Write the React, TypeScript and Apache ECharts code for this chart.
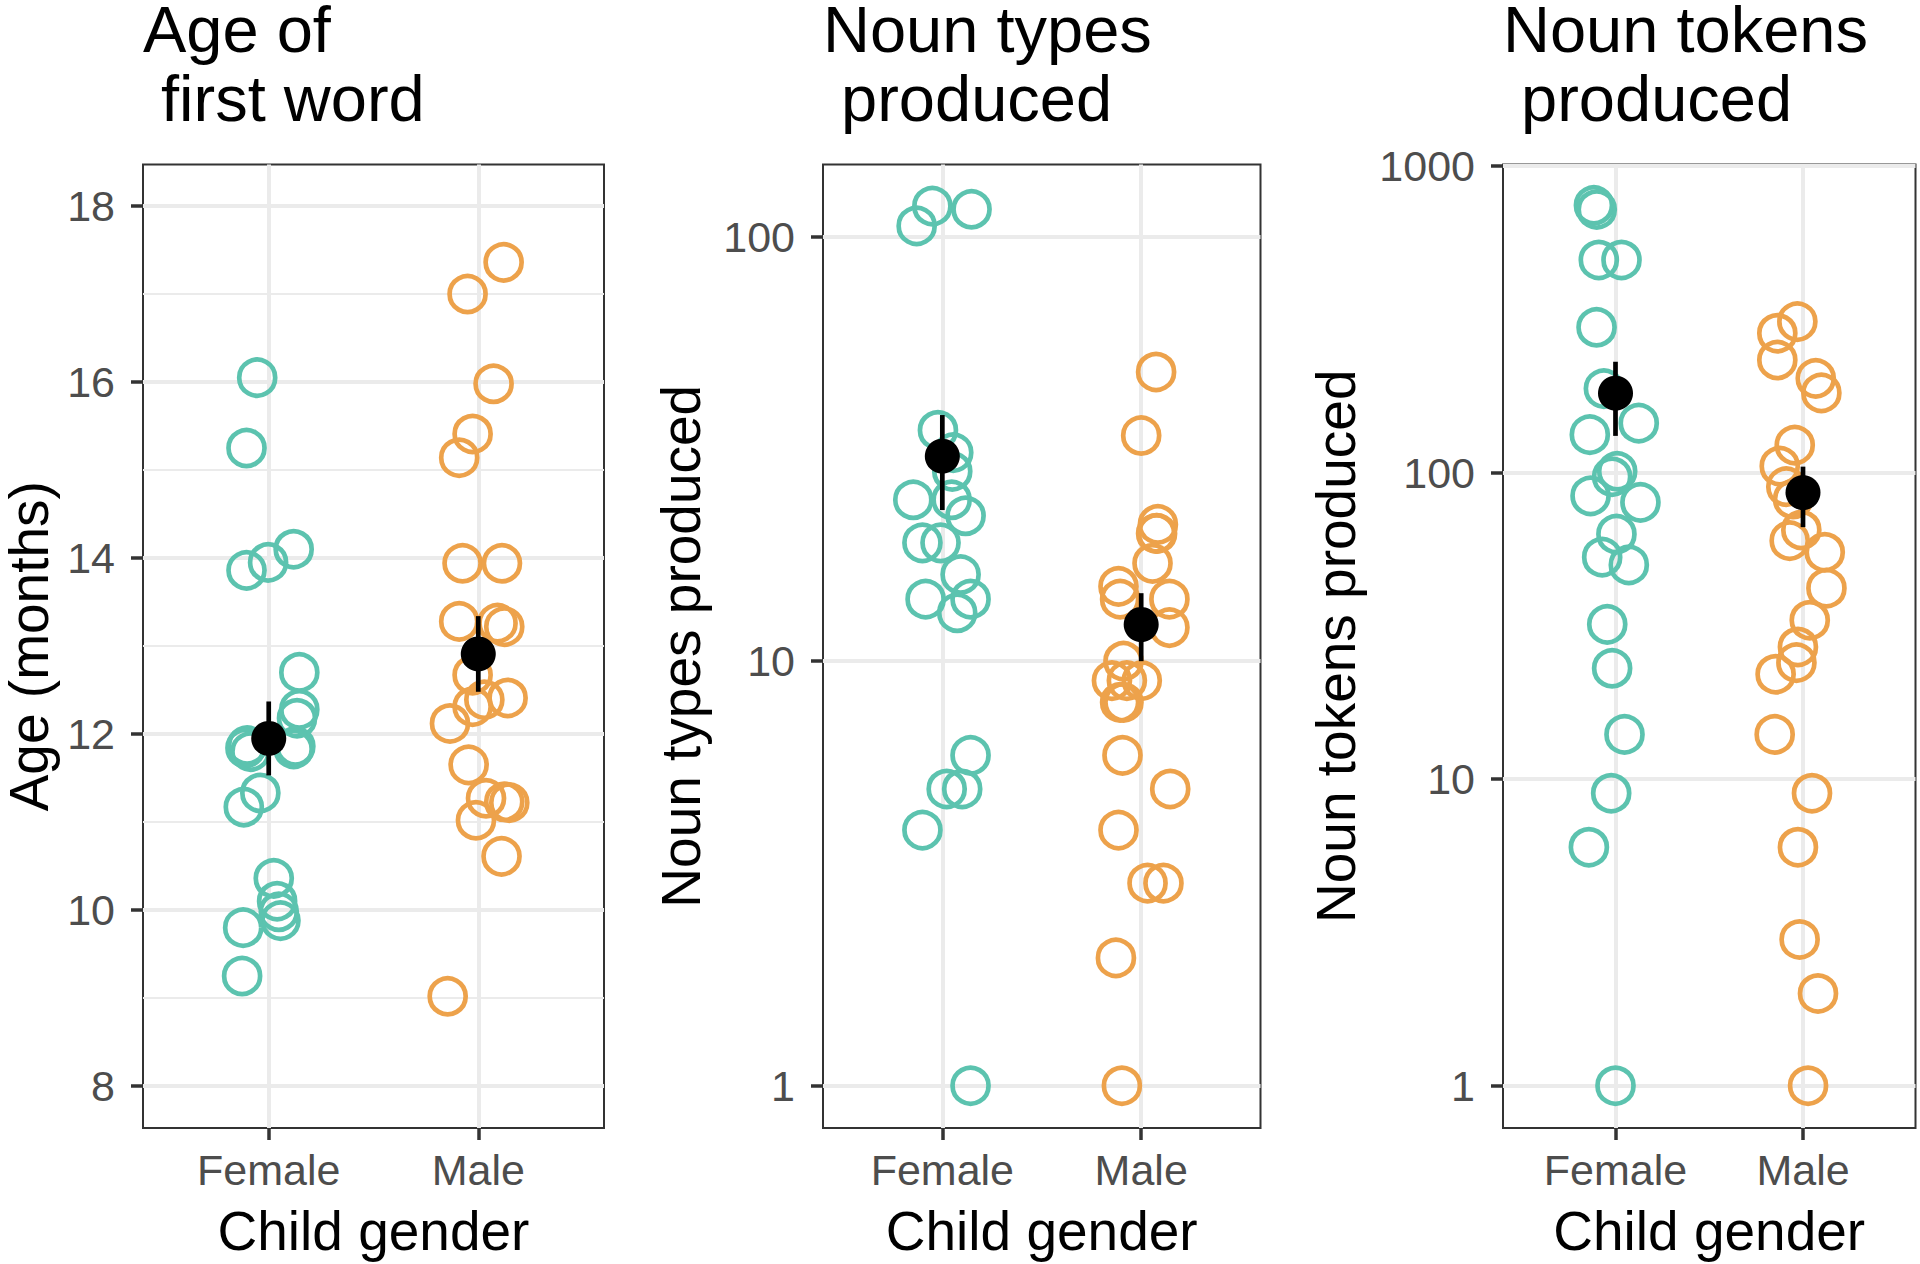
import React, { useEffect, useRef } from 'react';
import * as echarts from 'echarts';

// ---------- data ----------
const genders = ['Female', 'Male'];
const titleLine1 = ['Age of', 'Noun types', 'Noun tokens'];
const titleLine2 = ['\u00a0first word', '\u00a0produced', '\u00a0produced'];
const yTitles = ['Age (months)', 'Noun types produced', 'Noun tokens produced'];
const xTitle = 'Child gender';

const ageTicks = [8, 10, 12, 14, 16, 18];
const ageMinorTicks = [9, 11, 13, 15, 17];
const typesTicks = [1, 10, 100];
const tokensTicks = [1, 10, 100, 1000];

// Panel 1: age of first word (months)
const ageFemaleVal = [16.05, 15.25, 14.1, 13.95, 13.86, 12.7, 12.28, 12.18, 11.86, 11.83, 11.87, 11.84, 11.8, 11.33, 11.17, 10.36, 10.1, 9.98, 9.88, 9.8, 9.25];
const ageFemaleJit = [-0.055, -0.106, 0.119, -0.003, -0.106, 0.146, 0.146, 0.135, 0.127, 0.119, -0.103, -0.111, -0.087, -0.04, -0.119, 0.024, 0.04, 0.048, 0.056, -0.122, -0.127];
const ageMaleVal = [17.36, 17.0, 15.98, 15.41, 15.14, 13.94, 13.94, 13.28, 13.26, 13.22, 12.67, 12.41, 12.39, 12.31, 12.12, 11.65, 11.27, 11.23, 11.22, 11.02, 10.61, 9.02];
const ageMaleJit = [0.121, -0.051, 0.073, -0.027, -0.091, -0.075, 0.113, -0.091, 0.092, 0.124, -0.027, 0.14, 0.029, -0.027, -0.135, -0.046, 0.037, 0.124, 0.148, -0.011, 0.111, -0.146];
const ageMean = [11.95, 12.91];
const ageLo = [11.53, 12.48];
const ageHi = [12.37, 13.34];

// Panel 2: noun types produced
const typesFemaleVal = [106, 118, 116, 35, 31, 28, 24, 24, 22, 19, 19, 16, 14, 14, 13, 6, 5, 5, 4, 1];
const typesFemaleJit = [-0.129, -0.05, 0.147, -0.022, 0.055, 0.05, -0.146, 0.047, 0.117, -0.1, -0.009, 0.092, -0.084, 0.142, 0.075, 0.142, 0.022, 0.1, -0.1, 0.142];
const typesMaleVal = [48, 34, 21, 20, 20, 17, 15, 14, 14, 12, 10, 9, 9, 9, 8, 8, 6, 5, 4, 3, 3, 2, 1];
const typesMaleJit = [0.075, 0.0, 0.084, 0.08, 0.075, 0.057, -0.114, -0.106, 0.142, 0.142, -0.089, -0.072, -0.147, 0.003, -0.089, -0.106, -0.094, 0.146, -0.114, 0.032, 0.112, -0.127, -0.097];
const typesMean = [30.4, 12.2];
const typesLo = [22.7, 10.0];
const typesHi = [38.0, 14.46];

// Panel 3: noun tokens produced
const tokensFemaleVal = [745, 722, 494, 494, 298, 188, 145, 133, 101, 97, 84, 80, 63, 53, 50, 32, 23, 14, 9, 6, 1];
const tokensFemaleJit = [-0.115, -0.1, -0.089, 0.032, -0.101, -0.062, 0.124, -0.137, 0.009, -0.018, -0.133, 0.133, 0.005, -0.071, 0.071, -0.044, -0.018, 0.048, -0.023, -0.142, 0.0];
const tokensMaleVal = [311, 285, 233, 203, 182, 123, 105, 90, 82, 65, 60, 55, 42, 33, 27, 24, 22, 14, 9, 6, 3, 2, 1];
const tokensMaleJit = [-0.03, -0.137, -0.137, 0.068, 0.098, -0.044, -0.124, -0.089, -0.053, -0.009, -0.071, 0.116, 0.125, 0.036, -0.027, -0.035, -0.146, -0.151, 0.048, -0.027, -0.018, 0.08, 0.027];
const tokensMean = [181.6, 86.1];
const tokensLo = [131.8, 66.4];
const tokensHi = [230, 104.6];

// ---------- styling ----------
const TEAL = '#5CC3AF';
const ORANGE = '#EDA24B';
const FONT = '"Liberation Sans", Arial, Helvetica, sans-serif';
const GRID_TOP = 164.5;
const GRID_H = 963.5;
const TICK_FS = 43;
const TITLE_FS = 65;
const AXIS_TITLE_FS = 55;

const grids = [
  { left: 143, width: 461 },
  { left: 823, width: 437.5 },
  { left: 1503, width: 412.5 },
];

const yRanges = [
  { type: 'value', min: 7.523, max: 18.472, ticks: ageTicks, nameGap: 92 },
  { type: 'log', min: 0.795, max: 147.9, ticks: typesTicks, nameGap: 120 },
  { type: 'log', min: 0.728, max: 1012, ticks: tokensTicks, nameGap: 145 },
];

const panels = [
  { fVal: ageFemaleVal, fJit: ageFemaleJit, mVal: ageMaleVal, mJit: ageMaleJit, mean: ageMean, lo: ageLo, hi: ageHi, yIdx: 0 },
  { fVal: typesFemaleVal, fJit: typesFemaleJit, mVal: typesMaleVal, mJit: typesMaleJit, mean: typesMean, lo: typesLo, hi: typesHi, yIdx: 2 },
  { fVal: tokensFemaleVal, fJit: tokensFemaleJit, mVal: tokensMaleVal, mJit: tokensMaleJit, mean: tokensMean, lo: tokensLo, hi: tokensHi, yIdx: 3 },
];

function buildOption() {
  const grid = grids.map((g) => ({
    left: g.left,
    top: GRID_TOP,
    width: g.width,
    height: GRID_H,
    show: true,
    backgroundColor: '#fff',
    borderColor: '#333333',
    borderWidth: 2,
    containLabel: false,
    outerBoundsMode: 'none',
  }));

  const titleStyle = { fontSize: TITLE_FS, lineHeight: 50, fontWeight: 'normal', color: '#000', fontFamily: FONT };
  const title = titleLine1.map((t, i) => ({
    text: t,
    subtext: titleLine2[i],
    left: grids[i].left,
    top: 4.5,
    padding: 0,
    itemGap: 3.5,
    textStyle: titleStyle,
    subtextStyle: titleStyle,
  }));

  const xAxis = grids.map((_, i) => ({
    gridIndex: i,
    type: 'value',
    min: 0.4,
    max: 2.6,
    name: xTitle,
    nameLocation: 'middle',
    nameGap: 75,
    nameTextStyle: { fontSize: AXIS_TITLE_FS, color: '#000', fontFamily: FONT },
    axisLine: { show: false },
    axisTick: { show: true, length: 12, lineStyle: { color: '#333333', width: 3.5 }, customValues: [1, 2] },
    axisLabel: {
      show: true,
      margin: 20,
      fontSize: TICK_FS,
      color: '#4D4D4D',
      fontFamily: FONT,
      customValues: [1, 2],
      formatter: (v: number) => genders[Math.round(v) - 1] || '',
    },
    splitLine: { show: true, showMinLine: true, showMaxLine: true, lineStyle: { color: '#EBEBEB', width: 4 } },
  }));

  const mainY = (i: number) => {
    const r = yRanges[i];
    return {
      gridIndex: i,
      type: r.type,
      logBase: 10,
      min: r.min,
      max: r.max,
      name: yTitles[i],
      nameLocation: 'middle',
      nameGap: r.nameGap,
      nameTextStyle: { fontSize: AXIS_TITLE_FS, lineHeight: 45, color: '#000', fontFamily: FONT },
      axisLine: { show: false },
      axisTick: { show: true, length: 12, lineStyle: { color: '#333333', width: 3.5 }, customValues: r.ticks },
      axisLabel: {
        show: true,
        margin: 28,
        fontSize: TICK_FS,
        color: '#4D4D4D',
        fontFamily: FONT,
        customValues: r.ticks,
        formatter: (v: number) => String(Math.round(v * 1000) / 1000),
      },
      splitLine: { show: true, showMinLine: true, showMaxLine: true, lineStyle: { color: '#EBEBEB', width: 4 } },
      minorSplitLine: { show: false },
    };
  };

  const yAxis = [
    mainY(0),
    {
      gridIndex: 0,
      type: 'value',
      min: yRanges[0].min,
      max: yRanges[0].max,
      position: 'right',
      axisLine: { show: false },
      axisTick: { show: false, customValues: ageMinorTicks },
      axisLabel: { show: false, customValues: ageMinorTicks },
      splitLine: { show: true, showMinLine: true, showMaxLine: true, lineStyle: { color: '#EBEBEB', width: 2.2 } },
    },
    mainY(1),
    mainY(2),
  ];

  const series: any[] = [];
  panels.forEach((p, i) => {
    const common = { xAxisIndex: i, yAxisIndex: p.yIdx, silent: true };
    series.push({
      ...common,
      type: 'scatter',
      symbol: 'circle',
      symbolSize: 36,
      itemStyle: { color: 'rgba(0,0,0,0)', borderColor: TEAL, borderWidth: 4.7, opacity: 1 },
      data: p.fVal.map((v, k) => [1 + p.fJit[k], v]),
      z: 2,
    });
    series.push({
      ...common,
      type: 'scatter',
      symbol: 'circle',
      symbolSize: 36,
      itemStyle: { color: 'rgba(0,0,0,0)', borderColor: ORANGE, borderWidth: 4.7, opacity: 1 },
      data: p.mVal.map((v, k) => [2 + p.mJit[k], v]),
      z: 2,
    });
    series.push({
      ...common,
      type: 'custom',
      data: p.mean.map((_, k) => [k + 1, p.lo[k], p.hi[k]]),
      encode: { x: 0, y: [1, 2] },
      renderItem: (params: any, api: any) => {
        const a = api.coord([api.value(0), api.value(1)]);
        const b = api.coord([api.value(0), api.value(2)]);
        return {
          type: 'line',
          shape: { x1: a[0], y1: a[1], x2: b[0], y2: b[1] },
          style: { stroke: '#000', lineWidth: 4.7 },
        };
      },
      z: 3,
    });
    series.push({
      ...common,
      type: 'scatter',
      symbol: 'circle',
      symbolSize: 35,
      itemStyle: { color: '#000', opacity: 1 },
      data: p.mean.map((m, k) => [k + 1, m]),
      z: 4,
    });
  });

  return {
    animation: false,
    backgroundColor: '#fff',
    textStyle: { fontFamily: FONT },
    title,
    grid,
    xAxis,
    yAxis,
    series,
  };
}

export default function App() {
  const ref = useRef<HTMLDivElement>(null);
  useEffect(() => {
    document.body.style.margin = '0';
    if (!ref.current) return;
    const chart = echarts.init(ref.current, null, { renderer: 'svg' });
    chart.setOption(buildOption() as any);
    return () => chart.dispose();
  }, []);
  return <div ref={ref} style={{ position: 'absolute', left: 0, top: 0, width: 1920, height: 1264 }} />;
}
